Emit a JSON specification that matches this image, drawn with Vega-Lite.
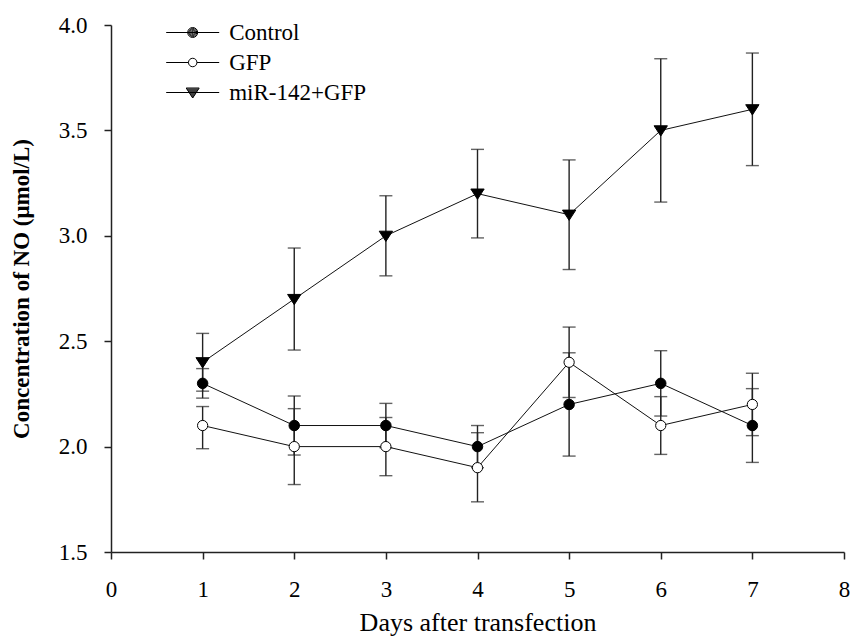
{
  "$schema": "https://vega.github.io/schema/vega-lite/v6.json",
  "width": 733,
  "height": 527,
  "autosize": "none",
  "padding": {"left": 111, "top": 25, "right": 11, "bottom": 85},
  "background": "white",
  "config": {
    "view": {"stroke": null},
    "font": "Liberation Serif",
    "axis": {
      "grid": false,
      "domainColor": "#222",
      "domainWidth": 1.5,
      "tickColor": "#222",
      "tickWidth": 1.5,
      "tickSize": 7,
      "labelColor": "black",
      "labelFont": "Liberation Serif",
      "labelFontSize": 23,
      "titleColor": "black",
      "titleFont": "Liberation Serif"
    }
  },
  "data": {
    "values": [
      {"day": 1, "group": "Control", "mean": 2.3, "lo": 2.23, "hi": 2.37},
      {"day": 2, "group": "Control", "mean": 2.1, "lo": 1.96, "hi": 2.24},
      {"day": 3, "group": "Control", "mean": 2.1, "lo": 1.995, "hi": 2.205},
      {"day": 4, "group": "Control", "mean": 2.0, "lo": 1.9, "hi": 2.1},
      {"day": 5, "group": "Control", "mean": 2.2, "lo": 1.955, "hi": 2.445},
      {"day": 6, "group": "Control", "mean": 2.3, "lo": 2.145, "hi": 2.455},
      {"day": 7, "group": "Control", "mean": 2.1, "lo": 1.925, "hi": 2.275},
      {"day": 1, "group": "GFP", "mean": 2.1, "lo": 1.99, "hi": 2.19},
      {"day": 2, "group": "GFP", "mean": 2.0, "lo": 1.82, "hi": 2.18},
      {"day": 3, "group": "GFP", "mean": 2.0, "lo": 1.862, "hi": 2.138},
      {"day": 4, "group": "GFP", "mean": 1.9, "lo": 1.738, "hi": 2.066},
      {"day": 5, "group": "GFP", "mean": 2.4, "lo": 2.233, "hi": 2.567},
      {"day": 6, "group": "GFP", "mean": 2.1, "lo": 1.963, "hi": 2.237},
      {"day": 7, "group": "GFP", "mean": 2.2, "lo": 2.052, "hi": 2.348},
      {"day": 1, "group": "miR-142+GFP", "mean": 2.4, "lo": 2.263, "hi": 2.537},
      {"day": 2, "group": "miR-142+GFP", "mean": 2.7, "lo": 2.458, "hi": 2.942},
      {"day": 3, "group": "miR-142+GFP", "mean": 3.0, "lo": 2.81, "hi": 3.19},
      {"day": 4, "group": "miR-142+GFP", "mean": 3.2, "lo": 2.99, "hi": 3.41},
      {"day": 5, "group": "miR-142+GFP", "mean": 3.1, "lo": 2.84, "hi": 3.36},
      {"day": 6, "group": "miR-142+GFP", "mean": 3.5, "lo": 3.16, "hi": 3.84},
      {"day": 7, "group": "miR-142+GFP", "mean": 3.6, "lo": 3.333, "hi": 3.867}
    ]
  },
  "encoding": {
    "x": {
      "field": "day",
      "type": "quantitative",
      "scale": {"domain": [0, 8], "nice": false, "zero": false},
      "axis": {
        "values": [0, 1, 2, 3, 4, 5, 6, 7, 8],
        "format": "d",
        "labelFlush": false,
        "labelPadding": 19,
        "title": "Days after transfection",
        "titleFontSize": 26,
        "titleFontWeight": "normal",
        "titlePadding": 8
      }
    }
  },
  "layer": [
    {
      "mark": {"type": "line", "color": "#111", "strokeWidth": 1},
      "encoding": {
        "y": {
          "field": "mean",
          "type": "quantitative",
          "scale": {"domain": [1.5, 4.0], "nice": false, "zero": false},
          "axis": {
            "values": [1.5, 2.0, 2.5, 3.0, 3.5, 4.0],
            "format": ".1f",
            "labelFlush": false,
            "labelPadding": 17,
            "title": "Concentration of NO (μmol/L)",
            "titleFontSize": 23,
            "titleFontWeight": "bold",
            "titlePadding": 25
          }
        },
        "detail": {"field": "group"}
      }
    },
    {
      "mark": {"type": "rule", "color": "#222", "strokeWidth": 1.4},
      "encoding": {
        "y": {"field": "lo", "type": "quantitative"},
        "y2": {"field": "hi"}
      }
    },
    {
      "mark": {"type": "tick", "orient": "horizontal", "color": "#222", "size": 13, "thickness": 1.4},
      "encoding": {"y": {"field": "lo", "type": "quantitative"}}
    },
    {
      "mark": {"type": "tick", "orient": "horizontal", "color": "#222", "size": 13, "thickness": 1.4},
      "encoding": {"y": {"field": "hi", "type": "quantitative"}}
    },
    {
      "transform": [{"filter": "datum.group === 'Control'"}],
      "mark": {"type": "point", "shape": "circle", "size": 110, "fill": "black", "filled": true, "stroke": "black", "strokeWidth": 1, "opacity": 1},
      "encoding": {"y": {"field": "mean", "type": "quantitative"}}
    },
    {
      "transform": [{"filter": "datum.group === 'GFP'"}],
      "mark": {"type": "point", "shape": "circle", "size": 105, "fill": "white", "filled": true, "stroke": "black", "strokeWidth": 1, "opacity": 1},
      "encoding": {"y": {"field": "mean", "type": "quantitative"}}
    },
    {
      "transform": [{"filter": "datum.group === 'miR-142+GFP'"}],
      "mark": {"type": "point", "shape": "M-1.3,-0.9L1.3,-0.9L0,1.1Z", "size": 105, "fill": "black", "filled": true, "stroke": "black", "strokeWidth": 1, "opacity": 1},
      "encoding": {"y": {"field": "mean", "type": "quantitative"}}
    },
    {
      "transform": [{"filter": "false"}],
      "mark": {"type": "point", "filled": false, "size": 100, "stroke": "black", "strokeWidth": 1, "opacity": 1},
      "encoding": {
        "y": {"field": "mean", "type": "quantitative"},
        "shape": {
          "field": "group",
          "type": "nominal",
          "scale": {
            "domain": ["Control", "GFP", "miR-142+GFP"],
            "range": [
              "M-5.3,0H5.3M1,0A1,1 0 1,1 -1,0A1,1 0 1,1 1,0M0.8,0A0.8,0.8 0 1,1 -0.8,0A0.8,0.8 0 1,1 0.8,0M0.6,0A0.6,0.6 0 1,1 -0.6,0A0.6,0.6 0 1,1 0.6,0M0.4,0A0.4,0.4 0 1,1 -0.4,0A0.4,0.4 0 1,1 0.4,0M0.2,0A0.2,0.2 0 1,1 -0.2,0A0.2,0.2 0 1,1 0.2,0",
              "M-5.3,0H-0.85M0.85,0H5.3M0.85,0A0.85,0.85 0 1,1 -0.85,0A0.85,0.85 0 1,1 0.85,0Z",
              "M-5.3,0H5.3M-1.3,-0.9L1.3,-0.9L0,1.1ZM-1.17,-0.7H1.17M-1.04,-0.5H1.04M-0.91,-0.3H0.91M-0.78,-0.1H0.78M-0.65,0.1H0.65M-0.52,0.3H0.52M-0.39,0.5H0.39M-0.26,0.7H0.26M-0.13,0.9H0.13"
            ]
          },
          "legend": {
            "orient": "none",
            "legendX": 70.2,
            "legendY": -4,
            "padding": 0,
            "title": null,
            "symbolSize": 100,
            "symbolOpacity": 1,
            "symbolStrokeColor": "black",
            "symbolStrokeWidth": 1,
            "rowPadding": 6,
            "labelOffset": 25,
            "labelFont": "Liberation Serif",
            "labelFontSize": 23,
            "labelColor": "black",
            "encode": {
              "symbols": {
                "update": {
                  "stroke": {"value": "black"},
                  "strokeWidth": {"value": 1},
                  "opacity": {"value": 1}
                }
              }
            }
          }
        }
      }
    }
  ]
}
